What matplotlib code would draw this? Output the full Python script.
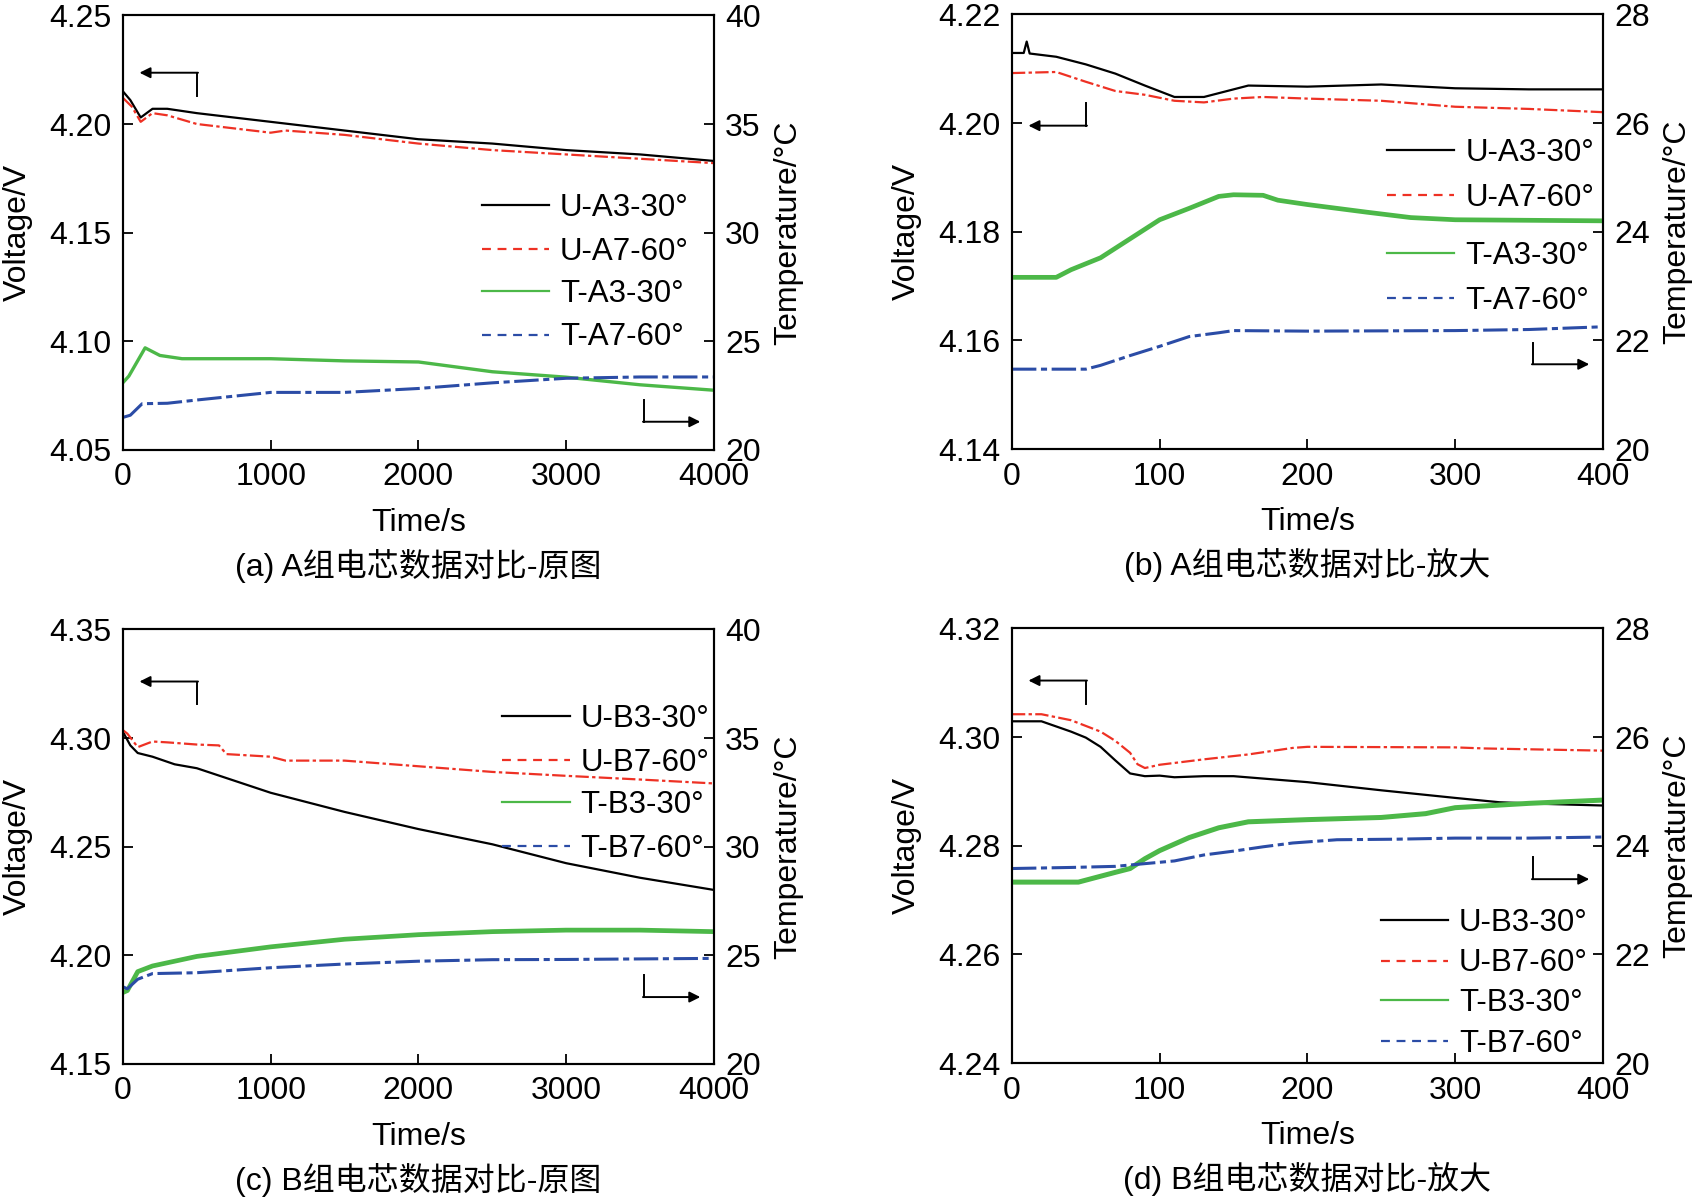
"""
plot.py
=======
A/B 组电芯 电压-温度 对比 (原图 + 放大)
"""
import numpy as np
import matplotlib
matplotlib.use("Agg")
import matplotlib.pyplot as plt
from matplotlib.lines import Line2D
from matplotlib.ticker import FormatStrFormatter

# ── Data ──────────────────────────────────────────────────────────────────────
# (a) A group, full range
a_u3_t = [0, 50, 120, 200, 300, 500, 1000, 1500, 2000, 2500, 3000, 3500, 4000]
a_u3_v = [4.215, 4.211, 4.203, 4.207, 4.207, 4.205, 4.201, 4.197, 4.193, 4.191, 4.188, 4.186, 4.183]
a_u7_t = [0, 60, 120, 200, 300, 500, 1000, 1100, 1500, 2000, 2500, 3000, 3500, 4000]
a_u7_v = [4.212, 4.208, 4.201, 4.205, 4.204, 4.200, 4.196, 4.197, 4.195, 4.191, 4.188, 4.186, 4.184, 4.182]
a_t3_t = [0, 40, 150, 250, 400, 1000, 1500, 2000, 2500, 3000, 3500, 4000]
a_t3_c = [23.1, 23.4, 24.7, 24.35, 24.2, 24.2, 24.1, 24.05, 23.6, 23.35, 23.0, 22.75]
a_t7_t = [0, 50, 130, 300, 500, 1000, 1500, 2000, 2500, 3000, 3500, 4000]
a_t7_c = [21.5, 21.6, 22.13, 22.15, 22.3, 22.65, 22.65, 22.83, 23.09, 23.3, 23.36, 23.36]

# (b) A group, zoom
b_u3_t = [0, 8, 10, 12, 30, 50, 70, 90, 110, 130, 150, 160, 200, 250, 300, 350, 400]
b_u3_v = [4.2129, 4.2129, 4.2150, 4.2128, 4.2122, 4.2108, 4.2091, 4.2069, 4.2048, 4.2048,
          4.2062, 4.2069, 4.2067, 4.2071, 4.2064, 4.2062, 4.2062]
b_u7_t = [0, 30, 50, 70, 90, 110, 130, 150, 170, 200, 250, 300, 350, 400]
b_u7_v = [4.2092, 4.2094, 4.2076, 4.2059, 4.2052, 4.2041, 4.2038, 4.2045, 4.2048, 4.2045,
          4.2041, 4.2030, 4.2026, 4.2020]
b_t3_t = [0, 30, 40, 60, 80, 100, 120, 140, 150, 170, 180, 200, 220, 240, 270, 300, 400]
b_t3_c = [23.16, 23.16, 23.30, 23.52, 23.87, 24.22, 24.43, 24.65, 24.68, 24.67, 24.58,
          24.50, 24.43, 24.36, 24.26, 24.22, 24.20]
b_t7_t = [0, 50, 60, 80, 100, 120, 140, 150, 200, 300, 350, 400]
b_t7_c = [21.47, 21.47, 21.54, 21.72, 21.89, 22.07, 22.14, 22.18, 22.17, 22.18, 22.20, 22.25]

# (c) B group, full range
c_u3_t = [0, 50, 100, 200, 350, 500, 1000, 1500, 2000, 2500, 3000, 3500, 4000]
c_u3_v = [4.3028, 4.2966, 4.2931, 4.2914, 4.2879, 4.2861, 4.2748, 4.2660, 4.2581, 4.2511,
          4.2424, 4.2357, 4.2301]
c_u7_t = [0, 30, 100, 200, 300, 500, 650, 700, 1000, 1100, 1500, 2000, 2500, 3000, 3500, 4000]
c_u7_v = [4.3036, 4.3020, 4.2958, 4.2984, 4.2980, 4.2970, 4.2966, 4.2926, 4.2914, 4.2896,
          4.2896, 4.2870, 4.2844, 4.2826, 4.2809, 4.2791]
c_t3_t = [0, 30, 100, 200, 500, 1000, 1500, 2000, 2500, 3000, 3500, 4000]
c_t3_c = [23.29, 23.38, 24.25, 24.51, 24.95, 25.39, 25.74, 25.95, 26.09, 26.16, 26.16, 26.09]
c_t7_t = [0, 30, 100, 200, 500, 1000, 1500, 2000, 2500, 3000, 4000]
c_t7_c = [23.55, 23.46, 23.90, 24.16, 24.20, 24.43, 24.60, 24.73, 24.80, 24.81, 24.86]

# (d) B group, zoom
d_u3_t = [0, 20, 40, 50, 60, 70, 80, 90, 100, 110, 130, 150, 200, 250, 300, 330, 360, 400]
d_u3_v = [4.3029, 4.3029, 4.3010, 4.2999, 4.2982, 4.2957, 4.2933, 4.2928, 4.2929, 4.2926,
          4.2928, 4.2928, 4.2917, 4.2902, 4.2888, 4.2880, 4.2877, 4.2874]
d_u7_t = [0, 20, 40, 60, 70, 80, 85, 90, 100, 130, 160, 190, 200, 300, 320, 400]
d_u7_v = [4.3042, 4.3042, 4.3031, 4.3010, 4.2993, 4.2971, 4.2950, 4.2943, 4.2949, 4.2959,
          4.2968, 4.2980, 4.2982, 4.2981, 4.2979, 4.2975]
d_t3_t = [0, 45, 70, 80, 90, 100, 120, 140, 160, 200, 250, 280, 300, 350, 400]
d_t3_c = [23.33, 23.33, 23.51, 23.58, 23.76, 23.91, 24.15, 24.33, 24.44, 24.48, 24.52,
          24.59, 24.70, 24.78, 24.84]
d_t7_t = [0, 40, 70, 90, 110, 130, 150, 170, 190, 220, 260, 300, 350, 400]
d_t7_c = [23.58, 23.60, 23.62, 23.67, 23.72, 23.83, 23.90, 23.98, 24.05, 24.11, 24.12,
          24.14, 24.14, 24.16]

PANELS = [
    dict(cap="(a) A组电芯数据对比-原图", g="A",
         u3=(a_u3_t, a_u3_v), u7=(a_u7_t, a_u7_v), t3=(a_t3_t, a_t3_c), t7=(a_t7_t, a_t7_c),
         xmax=4000, xstep=1000, vlim=(4.05, 4.25), vstep=0.05, tlim=(20, 40), tstep=5,
         leg_x=0.607, leg_y=(0.591, 0.394), leg_sp=0.44, green_lw=2.4,
         arr_l=(0.815, 0.868, "up"), arr_r=0.115),
    dict(cap="(b) A组电芯数据对比-放大", g="A",
         u3=(b_u3_t, b_u3_v), u7=(b_u7_t, b_u7_v), t3=(b_t3_t, b_t3_c), t7=(b_t7_t, b_t7_c),
         xmax=400, xstep=100, vlim=(4.14, 4.22), vstep=0.02, tlim=(20, 28), tstep=2,
         leg_x=0.635, leg_y=(0.715, 0.478), leg_sp=0.46, green_lw=3.4,
         arr_l=(0.744, 0.797, "down"), arr_r=0.245),
    dict(cap="(c) B组电芯数据对比-原图", g="B",
         u3=(c_u3_t, c_u3_v), u7=(c_u7_t, c_u7_v), t3=(c_t3_t, c_t3_c), t7=(c_t7_t, c_t7_c),
         xmax=4000, xstep=1000, vlim=(4.15, 4.35), vstep=0.05, tlim=(20, 40), tstep=5,
         leg_x=0.642, leg_y=(0.829, 0.631), leg_sp=0.46, green_lw=3.4,
         arr_l=(0.828, 0.880, "up"), arr_r=0.204),
    dict(cap="(d) B组电芯数据对比-放大", g="B",
         u3=(d_u3_t, d_u3_v), u7=(d_u7_t, d_u7_v), t3=(d_t3_t, d_t3_c), t7=(d_t7_t, d_t7_c),
         xmax=400, xstep=100, vlim=(4.24, 4.32), vstep=0.02, tlim=(20, 28), tstep=2,
         leg_x=0.624, leg_y=(0.357, 0.172), leg_sp=0.34, green_lw=3.6,
         arr_l=(0.827, 0.880, "up"), arr_r=0.473),
]

# axes boxes in figure fractions (left, bottom)
BOXES = [(0.0722, 0.6247), (0.5942, 0.6255), (0.0722, 0.1126), (0.5942, 0.1134)]
AX_W, AX_H = 0.347, 0.3625

BLACK = "#000000"
RED = "#ee3124"
GREEN = "#4cb848"
BLUE = "#2b4ca6"
FONTS = ["Liberation Sans", "Noto Sans CJK SC"]

plt.rcParams.update({
    "font.family": FONTS,
    "font.size": 23,
    "axes.linewidth": 1.5,
})

fig = plt.figure(figsize=(17.03, 11.99), dpi=100)

for p, (left, bottom) in zip(PANELS, BOXES):
    ax = fig.add_axes([left, bottom, AX_W, AX_H])
    ax2 = ax.twinx()
    g = p["g"]

    ax.plot(*p["u3"], color=BLACK, lw=1.6)
    ax.plot(*p["u7"], color=RED, lw=1.6, ls=(0, (6, 1.5, 1.5, 1.5)))
    ax2.plot(*p["t3"], color=GREEN, lw=p["green_lw"])
    ax2.plot(*p["t7"], color=BLUE, lw=2.2, ls=(0, (8, 1.5, 2, 1.5)))

    ax.set_xlim(0, p["xmax"])
    ax.set_xticks(np.arange(0, p["xmax"] + 1, p["xstep"]))
    ax.set_ylim(*p["vlim"])
    ax.set_yticks(np.arange(p["vlim"][0], p["vlim"][1] + 1e-9, p["vstep"]))
    ax.yaxis.set_major_formatter(FormatStrFormatter("%.2f"))
    ax2.set_ylim(*p["tlim"])
    ax2.set_yticks(np.arange(p["tlim"][0], p["tlim"][1] + 1, p["tstep"]))

    ax.tick_params(direction="in", length=7, width=1.3, top=False, right=False,
                   pad=8, labelsize=23)
    ax.tick_params(axis="x", pad=9)
    ax2.tick_params(direction="in", length=7, width=1.3, pad=8, labelsize=23)

    ax.set_xlabel("Time/s", labelpad=11, fontsize=23)
    ax.set_ylabel("Voltage/V", labelpad=12, fontsize=23)
    ax2.set_ylabel("Temperature/°C", labelpad=9, fontsize=23)

    # legend: voltage pair and temperature pair
    h_u = [Line2D([], [], color=BLACK, lw=1.6),
           Line2D([], [], color=RED, lw=1.6, ls=(0, (4, 3)))]
    h_t = [Line2D([], [], color=GREEN, lw=1.6),
           Line2D([], [], color=BLUE, lw=1.6, ls=(0, (4, 3)))]
    lab_u = [f"U-{g}3-30°", f"U-{g}7-60°"]
    lab_t = [f"T-{g}3-30°", f"T-{g}7-60°"]
    kw = dict(loc="upper left", frameon=False, handlelength=2.15, handletextpad=0.35,
              labelspacing=p["leg_sp"], borderaxespad=0, borderpad=0, fontsize=22.5)
    leg1 = ax.legend(h_u, lab_u, bbox_to_anchor=(p["leg_x"], p["leg_y"][0]), **kw)
    ax.add_artist(leg1)
    ax.legend(h_t, lab_t, bbox_to_anchor=(p["leg_x"], p["leg_y"][1]), **kw)

    # axis pointer arrows
    arr = dict(arrowstyle="-|>", color="black", lw=1.4, mutation_scale=16,
               shrinkA=0, shrinkB=0)
    y0, y1, where = p["arr_l"]
    ly = y1 if where == "up" else y0
    ax.plot([0.126, 0.126], [y0, y1], color="black", lw=1.4, transform=ax.transAxes)
    ax.annotate("", xy=(0.028, ly), xytext=(0.127, ly), xycoords="axes fraction",
                arrowprops=arr)
    ry = p["arr_r"]
    ax.plot([0.881, 0.881], [ry - 0.05, ry], color="black", lw=1.4,
            transform=ax.transAxes)
    ax.annotate("", xy=(0.977, ry - 0.05), xytext=(0.880, ry - 0.05),
                xycoords="axes fraction", arrowprops=arr)

    fig.text(left + AX_W / 2, bottom - 0.097, p["cap"], ha="center", va="center",
             fontsize=23, family=FONTS)

fig.savefig("out.png", dpi=100)
plt.close(fig)
